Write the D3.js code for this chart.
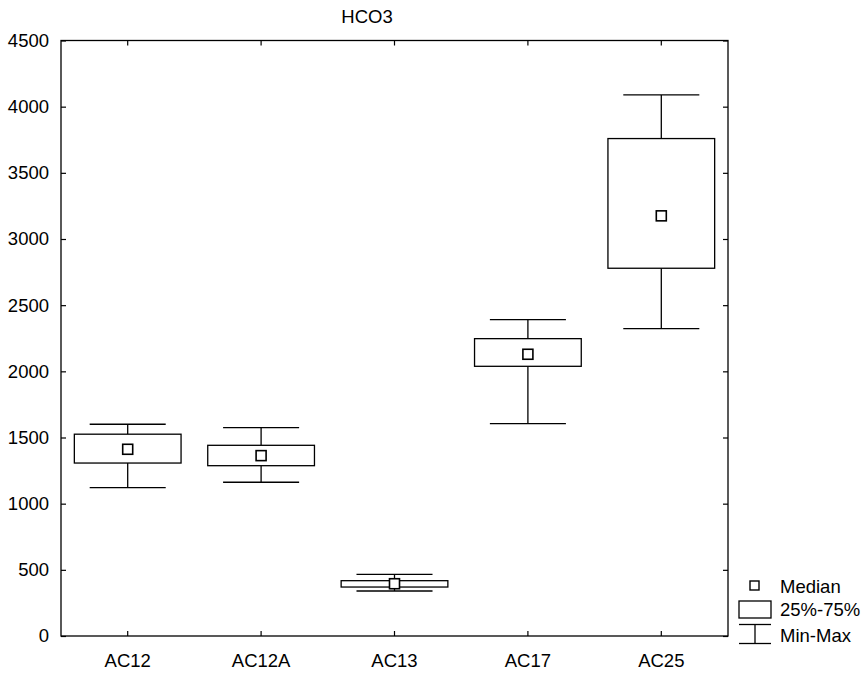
<!DOCTYPE html>
<html><head><meta charset="utf-8">
<script src="https://cdn.jsdelivr.net/npm/d3@7"></script>
<style>body{margin:0;background:#fff}text{font-family:"Liberation Sans",Arial,sans-serif;fill:#000}</style>
</head><body><svg id="c" width="866" height="675"></svg>
<script>
const categories = ["AC12","AC12A","AC13","AC17","AC25"];
const minVals = [1121,1162,340,1605,2323];
const q1Vals = [1307,1287,370,2038,2779];
const medianVals = [1411,1363,395,2129,3175];
const q3Vals = [1525,1441,418,2247,3759];
const maxVals = [1600,1575,466,2391,4089];
const yTicks = [0,500,1000,1500,2000,2500,3000,3500,4000,4500];
const title = "HCO3";
const legendLabels = ["Median","25%-75%","Min-Max"];

const svg = d3.select("#c");
const L=61, R=728, T=40.5, B=636;
const x = d3.scaleBand().domain(categories).range([L,R]).padding(0);
const y = d3.scaleLinear().domain([0,4500]).range([B,T]);
const fs = 18.5;
const ff = "Liberation Sans, Arial, sans-serif";

// frame
svg.append("rect").attr("x",L).attr("y",T).attr("width",R-L).attr("height",B-T)
  .attr("fill","none").attr("stroke","#000").attr("stroke-width",1.3);

// left axis
const yl = svg.append("g").attr("transform",`translate(${L},0)`)
  .call(d3.axisLeft(y).tickValues(yTicks).tickFormat(d3.format("d")).tickSizeInner(-5).tickSizeOuter(0).tickPadding(12));
yl.select(".domain").remove();
yl.selectAll("text").attr("font-size",fs).attr("font-family",ff);
yl.selectAll("line").attr("stroke-width",1.2);
// right axis ticks
const yr = svg.append("g").attr("transform",`translate(${R},0)`)
  .call(d3.axisRight(y).tickValues(yTicks).tickSizeInner(-5).tickSizeOuter(0).tickFormat(""));
yr.select(".domain").remove();
yr.selectAll("line").attr("stroke-width",1.2);
// bottom axis
const xb = svg.append("g").attr("transform",`translate(0,${B})`)
  .call(d3.axisBottom(x).tickSizeInner(-5).tickSizeOuter(0).tickPadding(17.5));
xb.select(".domain").remove();
xb.selectAll("text").attr("font-size",fs).attr("font-family",ff);
xb.selectAll("line").attr("stroke-width",1.2);
const xt = svg.append("g").attr("transform",`translate(0,${T})`)
  .call(d3.axisTop(x).tickSizeInner(-5).tickSizeOuter(0).tickFormat(""));
xt.select(".domain").remove();
xt.selectAll("line").attr("stroke-width",1.2);

// title
svg.append("text").attr("x",367).attr("y",23.3).attr("text-anchor","middle").attr("font-size",fs).text(title);

const bw = x.bandwidth()*0.8, cw = x.bandwidth()*0.57, ms = 10;
const g = svg.append("g").attr("stroke","#000").attr("stroke-width",1.3).attr("fill","none");
categories.forEach((c,i)=>{
  const cx = x(c)+x.bandwidth()/2;
  g.append("line").attr("x1",cx).attr("x2",cx).attr("y1",y(maxVals[i])).attr("y2",y(q3Vals[i]));
  g.append("line").attr("x1",cx).attr("x2",cx).attr("y1",y(q1Vals[i])).attr("y2",y(minVals[i]));
  g.append("line").attr("x1",cx-cw/2).attr("x2",cx+cw/2).attr("y1",y(maxVals[i])).attr("y2",y(maxVals[i]));
  g.append("line").attr("x1",cx-cw/2).attr("x2",cx+cw/2).attr("y1",y(minVals[i])).attr("y2",y(minVals[i]));
  g.append("rect").attr("x",cx-bw/2).attr("width",bw).attr("y",y(q3Vals[i])).attr("height",y(q1Vals[i])-y(q3Vals[i])).attr("fill","#fff");
  g.append("rect").attr("x",cx-ms/2).attr("y",y(medianVals[i])-ms/2).attr("width",ms).attr("height",ms).attr("fill","#fff").attr("stroke-width",1.6);
});

// legend
const lg = svg.append("g");
lg.append("rect").attr("x",750).attr("y",581).attr("width",9).attr("height",9).attr("fill","#fff").attr("stroke","#000").attr("stroke-width",1.4);
lg.append("rect").attr("x",739).attr("y",601).attr("width",32).attr("height",17).attr("fill","#fff").attr("stroke","#000").attr("stroke-width",1.3);
lg.append("line").attr("x1",739).attr("x2",771).attr("y1",624.5).attr("y2",624.5).attr("stroke","#000").attr("stroke-width",1.3);
lg.append("line").attr("x1",739).attr("x2",771).attr("y1",643.5).attr("y2",643.5).attr("stroke","#000").attr("stroke-width",1.3);
lg.append("line").attr("x1",755).attr("x2",755).attr("y1",624.5).attr("y2",643.5).attr("stroke","#000").attr("stroke-width",1.3);
const ly=[593,615.5,641.5];
legendLabels.forEach((t,i)=>lg.append("text").attr("x",780).attr("y",ly[i]).attr("font-size",fs).text(t));
</script></body></html>
